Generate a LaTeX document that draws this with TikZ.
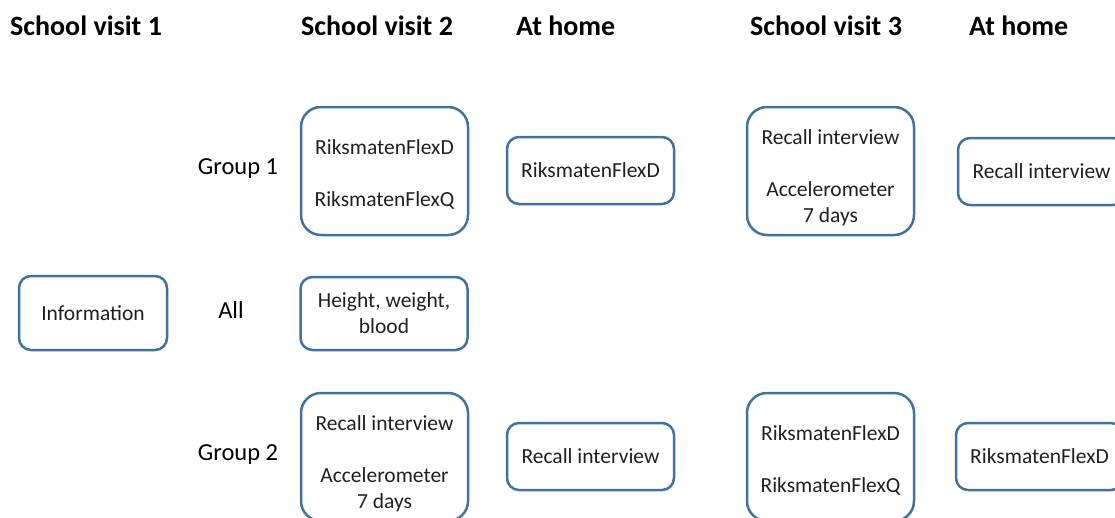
\documentclass[tikz,border=0pt]{standalone}
\usepackage{fontspec}
\setmainfont{Carlito}
\definecolor{boxblue}{HTML}{41719C}
\definecolor{boxtext}{HTML}{1F1F1F}
\newcommand{\padtop}[1]{\rule{0pt}{#1}}

\begin{document}
\begin{tikzpicture}[x=1pt,y=-1pt]
\tikzstyle{every node}+=[inner sep=0pt]
\tikzstyle{head}=[anchor=west, font=\fontsize{28}{32}\selectfont\bfseries]
\tikzstyle{grp}=[font=\fontsize{24.5}{28}\selectfont]
\tikzstyle{box}=[draw=boxblue, line width=2.5pt, rounded corners=12pt, minimum width=167pt, minimum height=67pt, align=center, text=boxtext, font=\fontsize{21.5}{26}\selectfont]
\tikzstyle{tallbox}=[box, rounded corners=20pt, minimum height=128pt]
\clip (0,0) rectangle (1115,517);
% column heads
\node [head] (h1) at (10,26) {School visit 1};
\node [head] (h2) at (301,26) {School visit 2};
\node [head] (h3) at (516,26) {At home};
\node [head] (h4) at (750,26) {School visit 3};
\node [head] (h5) at (969,26) {At home};
% groups
\node [grp] (g1) at (238,169) {Group 1};
\node [grp] (all) at (231,310) {All};
\node [grp] (g2) at (238,455) {Group 2};
% school visit 1 and 2
\node [box, minimum width=148pt, minimum height=74pt] (info) at (93,313) {Information};
\node [box, minimum height=73pt] (hwb) at (384,313.5) {Height, weight,\\blood};
\node [tallbox] (g1sv2) at (384.5,171) {\padtop{22pt}RiksmatenFlexD\\~\\RiksmatenFlexQ};
\node [tallbox] (g2sv2) at (384.5,457) {\padtop{28pt}Recall interview\\~\\Accelerometer\\7 days};
% at home
\node [box] (g1home) at (590.5,170.5) {RiksmatenFlexD};
\node [box] (g2home) at (590.5,456.5) {Recall interview};
% school visit 3
\node [tallbox] (g1sv3) at (830.5,171) {\padtop{28pt}Recall interview\\~\\Accelerometer\\7 days};
\node [tallbox] (g2sv3) at (830.5,457) {\padtop{22pt}RiksmatenFlexD\\~\\RiksmatenFlexQ};
% at home again
\node [box] (g1end) at (1041.5,171.5) {Recall interview};
\node [box] (g2end) at (1039.5,456.5) {RiksmatenFlexD};
\end{tikzpicture}
\end{document}
